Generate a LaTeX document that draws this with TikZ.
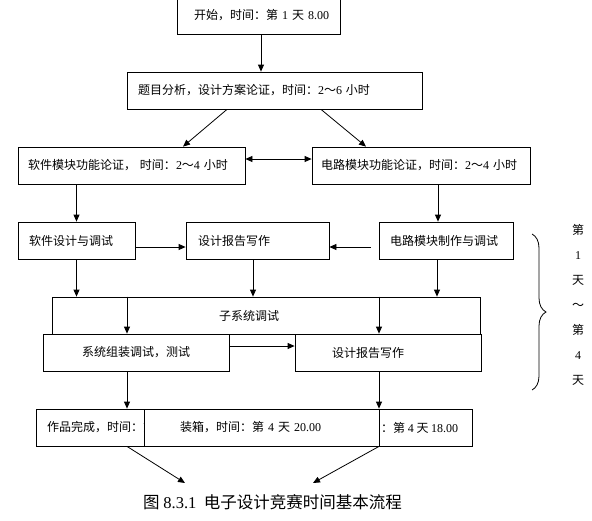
\documentclass[tikz,border=0pt]{standalone}
\usepackage{fontspec}
\setmainfont{Liberation Serif}
\newfontfamily\cjk{Noto Sans CJK SC}
\usetikzlibrary{arrows.meta, positioning, calc, decorations.pathreplacing}
\newcommand{\dig}[1]{{\rmfamily #1}}
\tikzset{
  box/.style={rectangle, draw=black, fill=white, line width=0.8pt,
    minimum height=37pt, inner ysep=0pt,
    font=\cjk\fontsize{12pt}{14pt}\selectfont, align=left},
  txt/.style={font=\cjk\fontsize{12pt}{14pt}\selectfont, inner sep=0pt},
  arrow/.style={-{Triangle[length=7pt,width=6pt]}, line width=0.8pt},
  darrow/.style={{Triangle[length=7pt,width=6pt]}-{Triangle[length=7pt,width=6pt]}, line width=0.8pt},
  plain/.style={line width=0.8pt},
  bracer/.style={decorate, decoration={brace, amplitude=14pt}, line width=0.8pt}
}

\begin{document}
\begin{tikzpicture}[x=1pt, y=-1pt]
  \useasboundingbox (0,0) rectangle (592,520);

  % top two boxes
  \node[box, inner xsep=11pt, text width=141pt, align=right] (start) at (258.5,15.5)
    {开始，时间：第 \dig{1} 天 \dig{8.00}};
  \node[box, inner xsep=11pt, text width=273pt] (b2) at (274.5,90.5)
    {题目分析，设计方案论证，时间：\dig{2}～\dig{6} 小时};

  % module demonstration
  \node[box, inner xsep=10pt, text width=207pt] (r3l) at (131.5,165.5)
    {软件模块功能论证， 时间：\dig{2}～\dig{4} 小时};
  \node[box, inner xsep=9pt, text width=200pt] (r3r) at (421,165.5)
    {电路模块功能论证，时间：\dig{2}～\dig{4} 小时};

  % design and report
  \node[box, inner xsep=11pt, text width=95pt] (r4l) at (76.5,240.5) {软件设计与调试};
  \node[box, inner xsep=12pt, text width=119pt] (r4m) at (257.5,240.5) {设计报告写作};
  \node[box, inner xsep=11pt, text width=112pt] (r4r) at (446,240.5) {电路模块制作与调试};

  % subsystem test
  \node[box, inner xsep=167pt, text width=94pt] (big) at (266,315.5) {子系统调试};
  \node[box, inner xsep=11pt, text width=164pt, align=center] (r5l) at (136,352.5)
    {系统组装调试，测试};
  \node[box, inner xsep=37pt, text width=112pt] (r5r) at (388,352.5) {设计报告写作};

  % finishing row, middle box laid over the wide one
  \node[box, inner xsep=11pt, text width=414pt] (r6) at (254,427.5) {作品完成，时间：第};
  \node[txt, anchor=east] (r6b) at ([xshift=-14pt]r6.east) {时间：第 \dig{4} 天 \dig{18.00}};
  \node[box, inner xsep=36pt, text width=163pt] (r6m) at (261.5,427.5)
    {装箱，时间：第 \dig{4} 天 \dig{20.00}};

  \coordinate (endL) at (185,483);
  \coordinate (endR) at (313,483);
  \node[font=\cjk\fontsize{16.5pt}{19pt}\selectfont, inner sep=0pt] (cap) at (272.5,502)
    {图 \dig{8.3.1}\ \ 电子设计竞赛时间基本流程};

  % brace and day range
  \coordinate (brtop) at (532,234);
  \coordinate (brbot) at (532,390);
  \draw[bracer] (brtop) -- (brbot);
  \node[font=\cjk\fontsize{12pt}{25pt}\selectfont, align=center, inner sep=0pt] (days) at (578,305)
    {第\\\dig{1}\\天\\～\\第\\\dig{4}\\天};

  % connectors
  \draw[arrow] ([xshift=2.5pt]start.south) -- ([xshift=2.5pt]start.south |- b2.north);
  \draw[arrow] ([xshift=-47.5pt]b2.south) -- ([xshift=51.5pt]r3l.north);
  \draw[arrow] ([xshift=46.5pt]b2.south) -- ([xshift=-55pt]r3r.north);
  \draw[darrow] ([yshift=6.5pt]r3l.east) -- ([yshift=6.5pt]r3l.east -| r3r.west);

  \draw[arrow] (r4l.north |- r3l.south) -- (r4l.north);
  \draw[arrow] ([xshift=-8pt]r4r.north |- r3r.south) -- ([xshift=-8pt]r4r.north);
  \draw[arrow] ([yshift=-6.5pt]r4l.east) -- ([yshift=-6.5pt]r4l.east -| r4m.west);
  \draw[arrow, shorten <=8pt] ([yshift=-6.5pt]r4r.west) -- ([yshift=-6.5pt]r4r.west -| r4m.east);

  \draw[arrow] (r4l.south) -- (r4l.south |- big.north);
  \draw[arrow] ([xshift=-4.5pt]r4m.south) -- ([xshift=-4.5pt]r4m.south |- big.north);
  \draw[arrow] ([xshift=-9pt]r4r.south) -- ([xshift=-9pt]r4r.south |- big.north);

  \draw[arrow] ([xshift=-9pt]r5l.north |- big.north) -- ([xshift=-9pt]r5l.north);
  \draw[arrow] ([xshift=-9pt]r5r.north |- big.north) -- ([xshift=-9pt]r5r.north);
  \draw[arrow] ([yshift=6.5pt]r5l.east) -- ([yshift=6.5pt]r5l.east -| r5r.west);

  \draw[arrow] ([xshift=-9pt]r5l.south) -- ([xshift=-9pt]r5l.south |- r6.north);
  \draw[arrow] ([xshift=-9pt]r5r.south) -- ([xshift=-9pt]r5r.south |- r6.north);
  \draw[arrow] ([xshift=-9pt]r5l.south |- r6.south) -- (endL);
  \draw[arrow] ([xshift=-9pt]r5r.south |- r6.south) -- (endR);
\end{tikzpicture}
\end{document}
